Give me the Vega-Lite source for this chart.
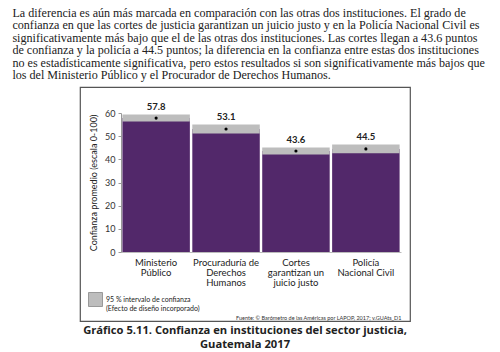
{
  "$schema": "https://vega.github.io/schema/vega-lite/v6.json",
  "padding": {"left": 12, "top": 6, "right": 5, "bottom": 5},
  "background": "white",
  "title": {
    "text": [
      "La diferencia es aún más marcada en comparación con las otras dos instituciones. El grado de",
      "confianza en que las cortes de justicia garantizan un juicio justo y en la Policía Nacional Civil es",
      "significativamente más bajo que el de las otras dos instituciones. Las cortes llegan a 43.6 puntos",
      "de confianza y la policía a 44.5 puntos; la diferencia en la confianza entre estas dos instituciones",
      "no es estadísticamente significativa, pero estos resultados si son significativamente más bajos que",
      "los del Ministerio Público y el Procurador de Derechos Humanos."
    ],
    "anchor": "start",
    "dx": -67,
    "offset": 5,
    "font": "Liberation Serif",
    "fontSize": 12.1,
    "fontWeight": "normal",
    "color": "#222",
    "lineHeight": 12.5
  },
  "data": {
    "values": [
      {"inst": "Ministerio|Público", "mean": 57.8, "lo": 56.3, "hi": 59.3, "ci": "95 % intervalo de confianza|(Efecto de diseño incorporado)"},
      {"inst": "Procuraduría de|Derechos|Humanos", "mean": 53.1, "lo": 51.2, "hi": 55.0, "ci": "95 % intervalo de confianza|(Efecto de diseño incorporado)"},
      {"inst": "Cortes|garantizan un|juicio justo", "mean": 43.6, "lo": 42.1, "hi": 45.1, "ci": "95 % intervalo de confianza|(Efecto de diseño incorporado)"},
      {"inst": "Policía|Nacional Civil", "mean": 44.5, "lo": 42.6, "hi": 46.4, "ci": "95 % intervalo de confianza|(Efecto de diseño incorporado)"}
    ]
  },
  "vconcat": [
    {
      "width": 330,
      "height": 234,
      "title": {
        "text": ["Gráfico 5.11. Confianza en instituciones del sector justicia,", "Guatemala 2017"],
        "orient": "bottom",
        "anchor": "middle",
        "offset": 4,
        "font": "Open Sans",
        "fontSize": 11.2,
        "fontWeight": "bold",
        "color": "#222",
        "lineHeight": 13.6
      },
      "encoding": {
        "x": {
          "field": "inst",
          "type": "nominal",
          "sort": null,
          "scale": {"range": [41, 321], "paddingInner": 0.035, "paddingOuter": 0.02},
          "axis": {
            "orient": "bottom",
            "offset": -69,
            "ticks": false,
            "domainColor": "#bbb",
            "labelAngle": 0,
            "labelExpr": "split(datum.label, '|')",
            "labelFont": "Lato",
            "labelFontSize": 9.5,
            "labelLineHeight": 10,
            "labelColor": "#222",
            "labelBaseline": "top",
            "labelPadding": 5,
            "title": "Fuente: © Barómetro de las Américas por LAPOP, 2017; v.GUAts_D1",
            "titleX": 321,
            "titleY": 65,
            "titleAlign": "right",
            "titleBaseline": "middle",
            "titleFont": "Lato",
            "titleFontSize": 5.5,
            "titleFontWeight": "normal",
            "titleColor": "#333"
          }
        }
      },
      "layer": [
        {
          "mark": {"type": "bar", "color": "#52286a"},
          "encoding": {
            "y": {
              "field": "mean",
              "type": "quantitative",
              "scale": {"domain": [0, 60], "range": [165, 26]},
              "axis": {
                "orient": "left",
                "offset": -41,
                "values": [0, 10, 20, 30, 40, 50, 60],
                "title": "Confianza promedio (escala 0-100)"
              }
            }
          }
        },
        {
          "mark": {"type": "bar"},
          "encoding": {
            "y": {
              "field": "lo",
              "type": "quantitative",
              "axis": {
                "orient": "left",
                "offset": -41,
                "values": [0, 10, 20, 30, 40, 50, 60],
                "title": "Confianza promedio (escala 0-100)"
              }
            },
            "y2": {"field": "hi"},
            "color": {
              "field": "ci",
              "type": "nominal",
              "scale": {"range": ["#bdbdbd"]},
              "legend": {
                "title": null,
                "orient": "none",
                "legendX": 8,
                "legendY": 205,
                "padding": 0,
                "symbolType": "square",
                "symbolSize": 196,
                "symbolStrokeColor": "#888",
                "symbolStrokeWidth": 0.8,
                "labelExpr": "split(datum.label, '|')",
                "labelFont": "Lato",
                "labelFontSize": 7,
                "labelLineHeight": 7.5,
                "labelColor": "#222",
                "labelOffset": 3
              }
            }
          }
        },
        {
          "mark": {"type": "point", "filled": true, "color": "black", "opacity": 1, "size": 10},
          "encoding": {
            "y": {
              "field": "mean",
              "type": "quantitative",
              "axis": {
                "orient": "left",
                "offset": -41,
                "values": [0, 10, 20, 30, 40, 50, 60],
                "title": "Confianza promedio (escala 0-100)"
              }
            }
          }
        },
        {
          "mark": {"type": "text", "dy": -3, "baseline": "bottom", "font": "Lato", "fontSize": 9.5, "fontWeight": "bold", "color": "#222"},
          "encoding": {
            "y": {
              "field": "hi",
              "type": "quantitative",
              "axis": {
                "orient": "left",
                "offset": -41,
                "values": [0, 10, 20, 30, 40, 50, 60],
                "title": "Confianza promedio (escala 0-100)"
              }
            },
            "text": {"field": "mean", "type": "quantitative", "format": ".1f"}
          }
        }
      ]
    }
  ],
  "config": {
    "view": {"stroke": "#555", "strokeWidth": 1.2},
    "axisY": {
      "tickCount": 7,
      "labelOverlap": false,
      "labelBound": false,
      "labelFlush": false,
      "grid": false,
      "domainColor": "#999",
      "tickColor": "#999",
      "tickSize": 3,
      "labelFont": "Lato",
      "labelFontSize": 9,
      "labelColor": "#333",
      "labelPadding": 3,
      "titleFont": "Lato",
      "titleFontSize": 9,
      "titleFontWeight": "normal",
      "titleColor": "#222",
      "titlePadding": 6
    }
  }
}
